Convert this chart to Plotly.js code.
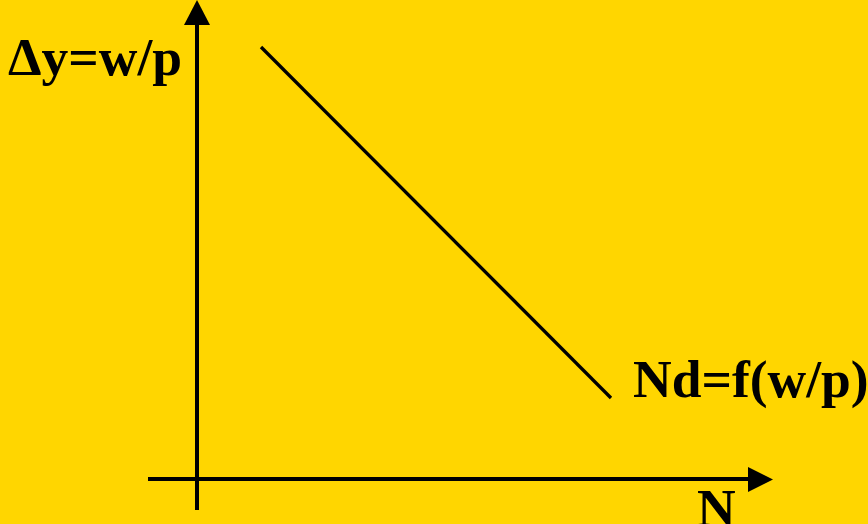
<!DOCTYPE html>
<html>
<head>
<meta charset="utf-8">
<script src="https://cdn.plot.ly/plotly-3.0.1.min.js"></script>
<style>html,body{margin:0;padding:0;background:#FFD600;}#chart{width:868px;height:524px;}</style>
</head>
<body>
<div id="chart"></div>
<script>
// Demand curve for labour: Nd = f(w/p)
const labour = [6.4, 41.4];        // N
const realWage = [43.2, 8.1];      // w/p
// Axis extents (data units)
const xAxisStart = -4.9, xAxisEnd = 55.1, xArrowTip = 57.6;
const yAxisStart = -3.1, yAxisEnd = 45.4, yArrowTip = 47.9;
const labels = ["Δy=w/p", "Nd=f(w/p)", "N"];

const bg = '#FFD600';
const traces = [{
  x: labour, y: realWage, type: 'scatter', mode: 'lines',
  line: {color: '#000', width: 3.3}, hoverinfo: 'skip'
}];

const shapes = [
  {type: 'line', xref: 'x', yref: 'y', x0: 0, x1: 0, y0: yAxisStart, y1: yAxisEnd, line: {color: '#000', width: 4}},
  {type: 'line', xref: 'x', yref: 'y', x0: xAxisStart, x1: xAxisEnd, y0: 0, y1: 0, line: {color: '#000', width: 4}},
  {type: 'path', xref: 'x', yref: 'y', path: `M -1.3 ${yAxisEnd} L 1.3 ${yAxisEnd} L 0 ${yArrowTip} Z`, fillcolor: '#000', line: {color: '#000', width: 0}},
  {type: 'path', xref: 'x', yref: 'y', path: `M ${xAxisEnd} 1.2 L ${xAxisEnd} -1.3 L ${xArrowTip} -0.05 Z`, fillcolor: '#000', line: {color: '#000', width: 0}}
];

const font = {family: '"Liberation Serif", "Times New Roman", serif', size: 53.5, color: '#000', weight: 'bold'};
const W = 868, H = 524;
const annotations = [
  {text: labels[0], xref: 'paper', yref: 'paper', x: 6 / W, y: 1 - 57 / H, xanchor: 'left', yanchor: 'middle', showarrow: false, font: font},
  {text: labels[1], xref: 'paper', yref: 'paper', x: 631 / W, y: 1 - 379 / H, xanchor: 'left', yanchor: 'middle', showarrow: false, font: font},
  {text: labels[2], xref: 'paper', yref: 'paper', x: 695 / W, y: 1 - 508 / H, xanchor: 'left', yanchor: 'middle', showarrow: false, font: font}
];

const layout = {
  width: W, height: H, autosize: false,
  margin: {l: 0, r: 0, t: 0, b: 0, pad: 0},
  paper_bgcolor: bg, plot_bgcolor: bg,
  showlegend: false,
  xaxis: {range: [-19.7, 67.1], visible: false, fixedrange: true},
  yaxis: {range: [-4.5, 47.9], visible: false, fixedrange: true},
  shapes: shapes, annotations: annotations
};
Plotly.newPlot('chart', traces, layout, {displayModeBar: false, staticPlot: true});
</script>
</body>
</html>
